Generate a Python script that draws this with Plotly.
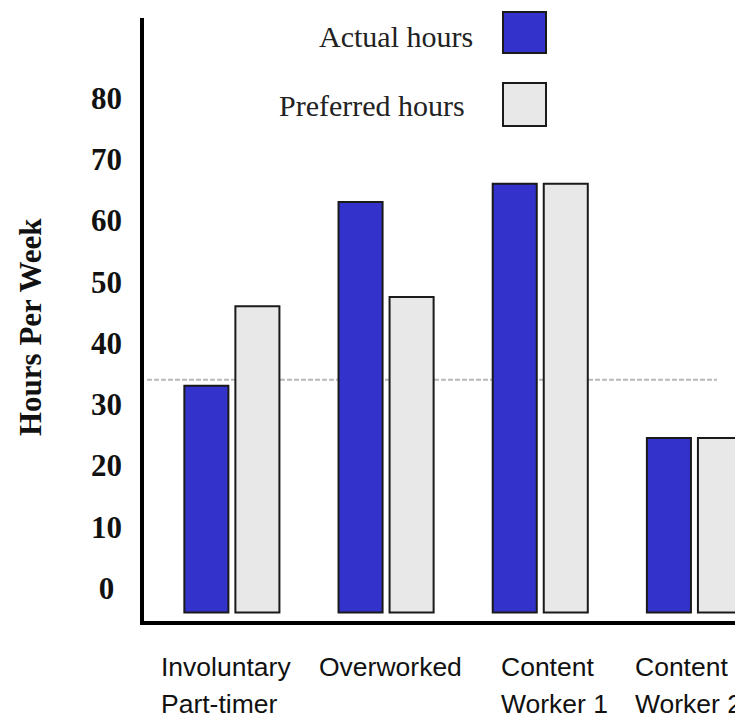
import plotly.graph_objects as go

# ---- data ----
categories = ["Involuntary Part-timer", "Overworked", "Content Worker 1", "Content Worker 2"]
actual_hours = [33, 63, 66, 24.5]
preferred_hours = [46, 47.5, 66, 24.5]
full_time_line = 34
y_tick_values = [0, 10, 20, 30, 40, 50, 60, 70, 80]
y_tick_labels = ["0", "10", "20", "30", "40", "50", "60", "70", "80"]
series_names = ["Actual hours", "Preferred hours"]

# ---- layout constants ----
OFF = 8                      # page body margin
W, H = 735, 715
L, R, T, B = 136, 0, 10, 102
PW, PH = W - L - R, H - T - B
BAR_BASE = -4                # bars are drawn from slightly below the zero label
Y_RANGE = [-5.39, 93.06]
X_RANGE = [-0.57, 3.315]

BLUE = "#3333CC"
GRAY = "#E8E8E8"
EDGE = "#1a1a1a"
SERIF = "Liberation Serif, Times New Roman, serif"
SANS = "Liberation Sans, Arial, sans-serif"


def px(xs):
    """screen x -> paper x"""
    return (xs - OFF - L) / PW


def py(ys):
    """screen y -> paper y"""
    return (T + PH - (ys - OFF)) / PH


fig = go.Figure()
for name, vals, color in [(series_names[0], actual_hours, BLUE),
                          (series_names[1], preferred_hours, GRAY)]:
    fig.add_trace(go.Bar(
        x=categories,
        y=[v - BAR_BASE for v in vals],
        base=BAR_BASE,
        name=name,
        marker=dict(color=color, line=dict(color=EDGE, width=2)),
        showlegend=False,
    ))

# dashed full-time reference line (behind bars)
fig.add_shape(type="line", xref="paper", yref="y", x0=px(147), x1=px(717),
              y0=full_time_line, y1=full_time_line, layer="below",
              line=dict(color="#b8b8b8", width=2, dash="5px,2px"))

annotations = []
# category labels, left aligned, first word on row 1, rest on row 2
label_left_px = [159, 317, 499, 633]
for cat, lx in zip(categories, label_left_px):
    parts = cat.split(" ", 1)
    rows = parts if cat != "Overworked" else [cat]
    for row_text, top in zip(rows, [650, 687]):
        annotations.append(dict(text=row_text, xref="paper", yref="paper", x=px(lx), y=py(top),
                                xanchor="left", yanchor="top", align="left", showarrow=False,
                                font=dict(family=SANS, size=26.5, color="#111111")))

# y axis title
annotations.append(dict(text="<b>Hours Per Week</b>", xref="paper", yref="paper",
                        x=px(30), y=py(327), xanchor="center", yanchor="middle",
                        textangle=-90, showarrow=False,
                        font=dict(family=SERIF, size=31, color="#111111")))

# legend (text left, swatch right)
legend_rows = [(series_names[0], BLUE, 475, 12, 53, 36.5),
               (series_names[1], GRAY, 467, 83, 126, 105.5)]
for name, color, tx, y0, y1, ty in legend_rows:
    annotations.append(dict(text=name, xref="paper", yref="paper", x=px(tx), y=py(ty),
                            xanchor="right", yanchor="middle", showarrow=False,
                            font=dict(family=SERIF, size=30, color="#222222")))
    fig.add_shape(type="rect", xref="paper", yref="paper", x0=px(503), x1=px(546),
                  y0=py(y1), y1=py(y0), fillcolor=color, line=dict(color=EDGE, width=2))

# single-digit tick label is centred over the two-digit column in the original
tick_text = [t + "\u2008" if len(t) == 1 else t for t in y_tick_labels]

fig.update_layout(
    width=W, height=H,
    margin=dict(l=L, r=R, t=T, b=B, pad=0),
    paper_bgcolor="white", plot_bgcolor="white",
    barmode="group", bargap=0.338, bargroupgap=0.137,
    annotations=annotations,
    xaxis=dict(range=X_RANGE, showticklabels=False, ticks="", showgrid=False, zeroline=False,
               showline=True, linecolor="black", linewidth=3.5, fixedrange=True),
    yaxis=dict(range=Y_RANGE, tickvals=y_tick_values, ticktext=tick_text, ticks="",
               showgrid=False, zeroline=False, showline=True, linecolor="black", linewidth=3.5,
               ticklabelstandoff=12, automargin=False,
               tickfont=dict(family=SERIF, size=31, color="#111111", weight="bold"),
               fixedrange=True),
)

fig.write_html("out.html")
